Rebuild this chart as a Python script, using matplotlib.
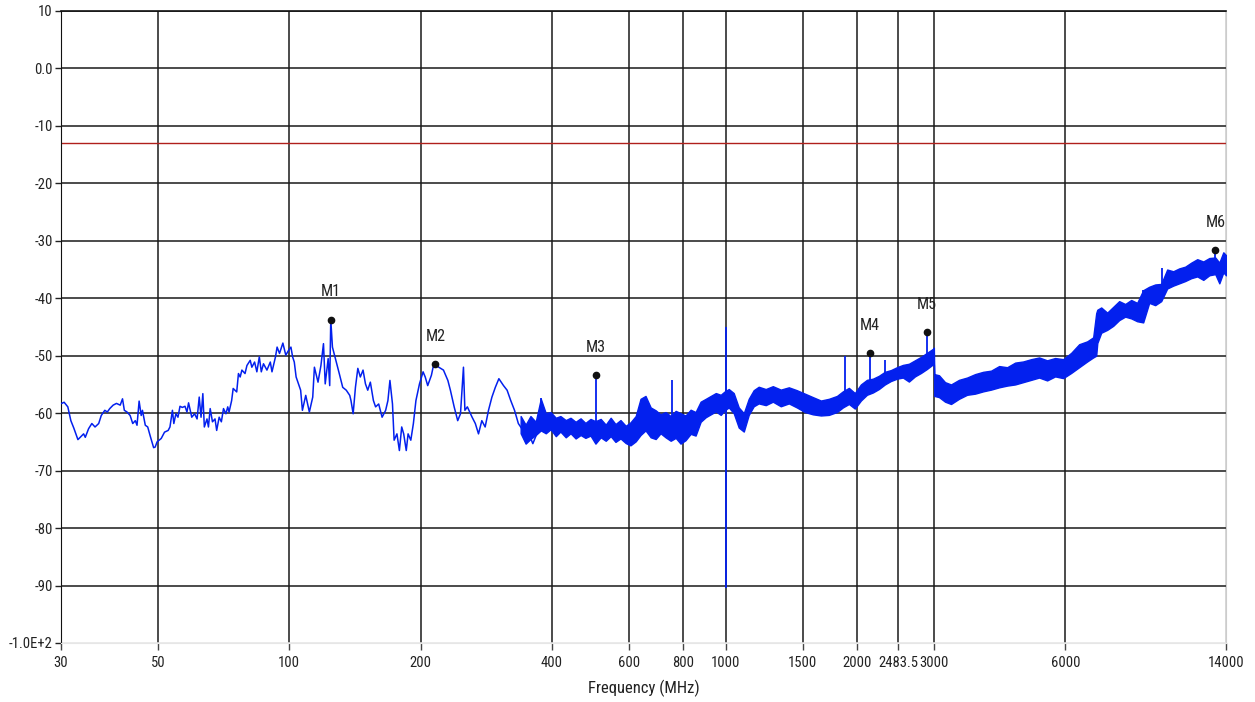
import matplotlib
matplotlib.use('Agg')
import matplotlib.pyplot as plt
from matplotlib.ticker import FixedLocator, FixedFormatter, NullLocator

# swept trace below ~400 MHz (thin line, local peaks and dips)
sweep_freq = [30.1, 30.5, 31.1, 31.6, 32.1, 32.8, 33.2, 33.8, 34.1, 34.7,
              35.3, 35.9, 36.6, 37.1, 37.8, 38.3, 38.8, 39.5, 40.2, 41.0,
              41.5, 41.9, 42.5, 43.2, 43.8, 44.4, 44.8, 45.3, 45.8, 46.1,
              46.8, 47.4, 48.0, 48.9, 49.3, 49.8, 50.9, 51.8, 52.8, 53.3,
              54.0, 54.4, 55.0, 55.6, 56.2, 56.9, 57.7, 58.3, 58.8, 59.3,
              59.8, 60.7, 61.5, 62.2, 62.8, 63.4, 63.9, 64.8, 65.3, 65.9,
              66.7, 67.6, 68.2, 69.1, 69.9, 70.7, 71.6, 72.3, 72.8, 73.8,
              74.4, 75.8, 76.5, 77.2, 77.9, 79.2, 80.0, 81.4, 82.1, 83.3,
              84.3, 85.4, 86.3, 87.3, 88.9, 90.5, 91.3, 93.0, 93.8, 95.0,
              96.7, 98.2, 99.6, 100.9, 101.8, 102.7, 103.7, 106.2, 107.2, 109.1,
              111.2, 113.2, 114.2, 116.4, 118.2, 119.8, 120.9, 122.8, 123.8, 124.5,
              125.6, 127.9, 130.2, 132.6, 135.1, 137.6, 138.5, 140.1, 141.8, 143.6,
              145.5, 147.6, 149.5, 151.3, 153.4, 155.9, 157.7, 160.3, 163.2, 166.3,
              168.3, 170.1, 172.4, 173.9, 176.5, 178.8, 181.0, 182.9, 185.4, 187.2,
              189.9, 192.5, 195.1, 198.8, 202.6, 204.9, 207.6, 211.7, 213.6, 216.2,
              220.1, 225.6, 230.9, 234.0, 238.7, 243.2, 246.8, 250.7, 252.6, 255.9,
              262.4, 266.9, 271.4, 276.2, 281.1, 286.1, 291.3, 296.6, 302.2, 309.7,
              315.6, 321.7, 328.2, 334.9, 343.2, 354.0, 361.5, 371.8, 381.6, 391.9]
sweep_level = [-58.3, -58.1, -58.9, -61.3, -62.6, -64.6, -64.2, -63.6, -64.2, -62.7,
               -61.8, -62.4, -61.8, -60.4, -59.5, -59.8, -59.2, -58.6, -58.3, -58.6,
               -57.5, -59.5, -59.8, -60.4, -61.8, -61.3, -62.1, -57.9, -60.4, -59.5,
               -62.1, -62.4, -63.9, -66.0, -65.9, -65.0, -64.4, -63.3, -63.0, -62.4,
               -59.5, -61.8, -60.1, -60.7, -58.8, -59.0, -58.8, -59.8, -58.2, -59.5,
               -60.7, -60.1, -61.0, -57.2, -60.7, -56.6, -62.4, -61.0, -62.4, -59.2,
               -61.5, -61.0, -63.0, -60.7, -61.5, -59.2, -60.1, -58.9, -59.8, -57.8,
               -55.7, -56.3, -53.1, -53.7, -52.5, -53.1, -51.7, -50.8, -52.0, -51.1,
               -52.8, -50.2, -52.8, -51.4, -52.5, -51.1, -52.8, -50.2, -48.5, -49.6,
               -47.8, -49.9, -49.1, -48.5, -50.2, -51.1, -53.7, -56.0, -59.5, -56.9,
               -59.8, -57.2, -52.0, -54.6, -51.7, -47.9, -54.9, -50.5, -55.2, -43.7,
               -48.5, -50.8, -53.1, -55.5, -56.0, -56.9, -57.8, -60.1, -55.5, -52.2,
               -53.7, -52.5, -54.9, -56.0, -54.6, -57.8, -58.9, -58.4, -60.7, -59.5,
               -57.8, -54.3, -58.4, -64.7, -63.6, -66.5, -62.4, -63.6, -66.5, -63.6,
               -64.7, -61.8, -57.8, -54.9, -52.8, -53.7, -55.2, -53.4, -52.0, -51.5,
               -52.0, -52.5, -54.3, -56.0, -58.9, -61.3, -60.1, -52.0, -59.5, -58.9,
               -60.7, -61.8, -63.6, -61.3, -62.4, -59.5, -57.2, -55.5, -54.0, -55.2,
               -56.0, -57.8, -59.5, -61.8, -63.0, -63.6, -65.3, -63.0, -61.3, -60.1]

# noisy part of the sweep: upper and lower edge of the band
band_freq = [339, 348, 357, 367, 377, 387, 397, 408, 418, 430,
             441, 453, 465, 477, 490, 503, 517, 531, 545, 559,
             574, 590, 605, 622, 638, 655, 673, 691, 709, 728,
             748, 768, 788, 809, 831, 853, 876, 900, 924, 949,
             974, 995, 1016, 1043, 1071, 1100, 1129, 1159, 1190, 1235,
             1282, 1337, 1395, 1455, 1518, 1583, 1652, 1723, 1798, 1855,
             1915, 1976, 2040, 2106, 2173, 2243, 2315, 2390, 2467, 2546,
             2628, 2713, 2801, 2891, 2984, 2998, 3005, 3080, 3180, 3282,
             3423, 3572, 3727, 3889, 4054, 4230, 4413, 4603, 4801, 5009,
             5224, 5449, 5684, 5930, 6186, 6452, 6731, 6948, 7059, 7100,
             7248, 7481, 7721, 7969, 8225, 8489, 8762, 9044, 9335, 9635,
             9947, 10266, 10598, 10939, 11290, 11654, 12030, 12419, 12819, 13230,
             13515, 13803, 14000]
band_top = [-60.5, -62.0, -60.5, -61.5, -57.5, -60.0, -59.8, -60.8, -60.5, -61.2,
            -60.8, -61.5, -60.9, -61.7, -61.0, -61.4, -61.0, -62.0, -60.8, -61.9,
            -61.2, -62.2, -61.6, -60.5, -57.5, -57.0, -59.0, -59.5, -60.2, -59.8,
            -60.5, -59.6, -60.0, -60.4, -59.4, -59.8, -58.0, -57.5, -57.0, -56.5,
            -56.8, -56.2, -55.8, -56.5, -59.0, -60.0, -57.5, -56.0, -55.4, -55.8,
            -55.3, -55.9, -55.5, -56.0, -56.6, -57.2, -57.8, -57.5, -57.0, -56.2,
            -55.6, -56.5, -55.0, -54.2, -54.0, -53.5, -52.8, -52.5, -52.0, -51.6,
            -51.4, -50.8, -50.2, -49.5, -48.8, -48.6, -53.2, -53.4, -54.6, -55.0,
            -54.2, -53.8, -53.2, -52.8, -52.6, -51.8, -52.0, -51.2, -51.0, -50.6,
            -50.3, -50.8, -50.4, -50.6, -49.5, -48.0, -47.5, -46.8, -42.6, -42.0,
            -41.6, -42.5, -41.5, -40.5, -41.0, -40.3, -40.8, -38.6, -38.0, -37.6,
            -37.5, -35.0, -35.3, -34.8, -34.5, -33.8, -33.2, -33.6, -33.0, -32.9,
            -33.8, -32.0, -32.5]
band_bottom = [-63.5, -65.3, -64.5, -63.8, -63.0, -63.5, -62.8, -64.0, -63.2, -64.2,
               -63.5, -64.4, -63.8, -64.3, -63.9, -65.3, -64.2, -64.8, -64.0, -65.0,
               -64.4, -65.2, -65.6, -64.9, -63.8, -63.0, -64.2, -64.5, -63.5, -64.2,
               -64.8, -64.3, -65.3, -64.7, -63.6, -63.9, -61.5, -60.7, -60.2, -59.7,
               -60.3, -59.5, -59.0, -60.0, -62.5, -63.2, -60.3, -58.8, -58.3, -58.6,
               -58.0, -58.8, -58.3, -59.0, -59.8, -60.2, -60.4, -60.3, -59.8, -59.0,
               -58.4, -59.2, -57.8, -56.8, -56.4, -55.8, -55.0, -54.4, -54.0, -53.8,
               -54.5, -53.6, -53.0, -52.3, -51.5, -51.5, -57.0, -57.2, -58.0, -58.4,
               -57.5, -56.8, -56.6, -56.2, -55.9, -55.5, -55.2, -55.0, -54.6, -54.2,
               -53.8, -54.3, -53.6, -53.9, -53.0, -52.0, -51.0, -50.3, -50.0, -47.8,
               -46.0, -45.5, -44.8, -43.8, -43.2, -43.5, -44.0, -44.2, -40.8, -41.2,
               -40.5, -38.3, -37.8, -37.4, -37.0, -36.5, -36.2, -36.8, -36.0, -35.8,
               -37.4, -35.5, -36.0]

# narrow spurs standing out of the noise
spike_freq = [376.5, 503.3, 755, 1000, 1875, 2139, 2315, 2891, 9050, 9990, 13230]
spike_top = [-57.4, -53.4, -54.3, -45.0, -50.1, -49.6, -50.8, -45.9, -38.6, -34.8, -31.6]
spike_base = [-62.0, -62.0, -61.0, -90.5, -57.0, -56.0, -54.0, -51.0, -43.0, -40.0, -35.0]

marker_names = ['M1', 'M2', 'M3', 'M4', 'M5', 'M6']
marker_freq = [124.5, 216.2, 503.3, 2139, 2891, 13230]
marker_level = [-43.7, -51.5, -53.4, -49.6, -45.9, -31.6]

limit_level = -13

x_ticks = [30, 50, 100, 200, 400, 600, 800, 1000, 1500, 2000, 2483.5, 3000, 6000, 14000]
x_labels = ['30', '50', '100', '200', '400', '600', '800', '1000', '1500', '2000',
            '2483.5', '3000', '6000', '14000']
y_ticks = [10, 0, -10, -20, -30, -40, -50, -60, -70, -80, -90, -100]
y_labels = ['10', '0.0', '-10', '-20', '-30', '-40', '-50', '-60', '-70', '-80', '-90', '-1.0E+2']

trace_color = '#0320ee'
plt.rcParams['font.family'] = ['Roboto Condensed', 'DejaVu Sans']

fig = plt.figure(figsize=(12.55, 7.02), dpi=100)
ax = fig.add_axes([61 / 1255, 1 - 643 / 702, 1165 / 1255, 632 / 702])

ax.set_xscale('log')
ax.set_xlim(30, 14000)
ax.set_ylim(-100, 10)

ax.fill_between(band_freq, band_bottom, band_top, color=trace_color, lw=1.0, zorder=3)
ax.plot(sweep_freq, sweep_level, color=trace_color, lw=1.1, zorder=3)
ax.vlines(spike_freq, spike_base, spike_top, color=trace_color, lw=1.3, zorder=3)

ax.axhline(limit_level, color='#b0201c', lw=1.0, zorder=2)

ax.plot(marker_freq, marker_level, 'o', color='#111111', ms=4.5, zorder=4)
for name, f, lv in zip(marker_names, marker_freq, marker_level):
    ax.annotate(name, (f, lv), xytext=(0, 20), textcoords='offset points',
                ha='center', va='center', fontsize=11.5, color='#222222')

ax.xaxis.set_major_locator(FixedLocator(x_ticks))
ax.xaxis.set_major_formatter(FixedFormatter(x_labels))
ax.xaxis.set_minor_locator(NullLocator())
ax.yaxis.set_major_locator(FixedLocator(y_ticks))
ax.yaxis.set_major_formatter(FixedFormatter(y_labels))

ax.grid(True, color='#1a1a1a', lw=1.1, zorder=1)
ax.set_axisbelow(True)
ax.xaxis.get_gridlines()[-1].set_color('#cccccc')
ax.yaxis.get_gridlines()[-1].set_color('#e6e6e6')

ax.spines['left'].set_color('#111111')
ax.spines['top'].set_color('#111111')
ax.spines['top'].set_linewidth(1.2)
ax.spines['right'].set_color('#cccccc')
ax.spines['bottom'].set_color('#e6e6e6')

ax.tick_params(axis='y', direction='out', length=4, width=1, color='#222222',
               labelsize=10.5, pad=2, labelcolor='#222222')
ax.tick_params(axis='x', direction='out', length=5, width=1, color='#444444',
               labelsize=10.5, pad=4.5, labelcolor='#222222')

ax.set_xlabel('Frequency (MHz)', fontsize=12, color='#222222', labelpad=7)

fig.savefig('out.png', dpi=100)
